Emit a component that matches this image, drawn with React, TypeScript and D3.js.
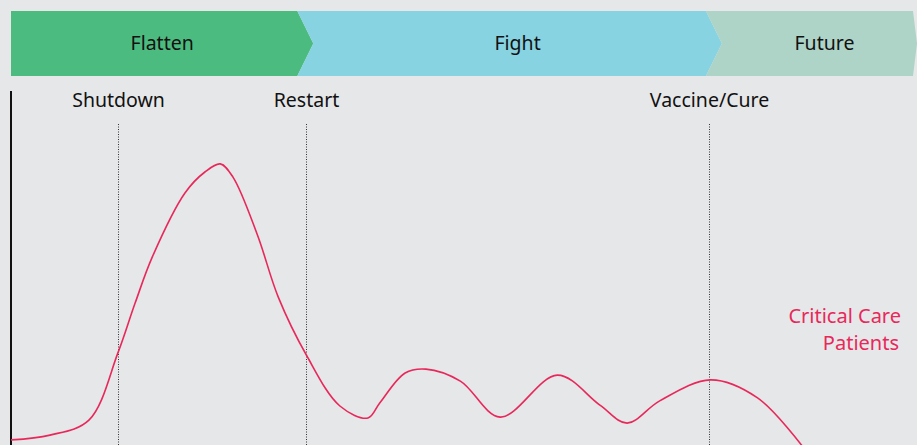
import React, { useEffect, useRef } from "react";
import * as d3 from "d3";

const W = 917;
const H = 445;

// Phases (time units 0..100)
const phaseNames = ["Flatten", "Fight", "Future"];
const phaseStarts = [0, 31.6, 76.7];
const phaseEnds = [31.6, 76.7, 100];
const phaseColors = ["#4cbb7f", "#87d3e2", "#aed3c7"];

// Events
const eventNames = ["Shutdown", "Restart", "Vaccine/Cure"];
const eventTimes = [11.8, 32.6, 77.0];

// Critical care patients curve
const times = [0, 4.3, 8.6, 11.8, 13.7, 15.6, 19.2, 21.4, 23.1, 24.5, 27.2, 29.5, 32.6, 36.3, 39.4, 40.7, 43.5, 45.8, 49.6, 54, 60.3, 65, 68, 71.6, 77.2, 82.4, 87.5];
const patients = [1.7, 3.3, 8.3, 30.7, 47.3, 62.7, 84, 91, 93.7, 89.3, 70, 49.3, 30, 13, 9, 14, 24, 25.3, 21.3, 9.3, 23.3, 13.3, 7.3, 14.7, 21.7, 15.7, -1];

const seriesLabel = ["Critical Care", "Patients"];

export default function App() {
  const ref = useRef<SVGSVGElement>(null);

  useEffect(() => {
    const svg = d3.select(ref.current);
    svg.selectAll("*").remove();
    const font = "'Noto Sans', 'IBM Plex Sans', sans-serif";
    const fs = 19.5;

    const x = d3.scaleLinear().domain([0, 100]).range([11, 917]);
    const y = d3.scaleLinear().domain([0, 100]).range([445, 145]);

    svg.append("rect").attr("width", W).attr("height", H).attr("fill", "#e6e7e9");

    // Banner
    const bTop = 11, bBot = 76, bMid = (bTop + bBot) / 2, tip = 16;
    const banner = svg.append("g");
    phaseNames.forEach((name, i) => {
      const x0 = x(phaseStarts[i]);
      const x1 = x(phaseEnds[i]);
      const last = i === phaseNames.length - 1;
      const pts: [number, number][] = [];
      pts.push([x0, bTop]);
      if (last) {
        pts.push([x1 - 4, bTop], [x1, bMid], [x1 - 4, bBot]);
      } else {
        pts.push([x1, bTop], [x1 + tip, bMid], [x1, bBot]);
      }
      pts.push([x0, bBot]);
      if (i > 0) pts.push([x0 + tip, bMid]);
      banner.append("path")
        .attr("d", "M" + pts.map(p => p.join(",")).join("L") + "Z")
        .attr("fill", phaseColors[i]);
    });
    phaseNames.forEach((name, i) => {
      const x0 = x(phaseStarts[i]) + (i > 0 ? tip : 0);
      const x1 = x(phaseEnds[i]) + (i < phaseNames.length - 1 ? tip : 0);
      banner.append("text")
        .attr("x", (x0 + x1) / 2 + (i === 2 ? 5 : 0))
        .attr("y", bMid)
        .attr("dy", "0.35em")
        .attr("text-anchor", "middle")
        .attr("font-family", font)
        .attr("font-size", fs)
        .attr("fill", "#111")
        .text(name);
    });

    // Y axis line
    svg.append("line")
      .attr("x1", 11).attr("x2", 11)
      .attr("y1", 91).attr("y2", H)
      .attr("stroke", "#111").attr("stroke-width", 2);

    // Event lines and labels
    eventNames.forEach((name, i) => {
      const ex = Math.round(x(eventTimes[i])) + 0.5;
      svg.append("line")
        .attr("x1", ex).attr("x2", ex)
        .attr("y1", 124).attr("y2", H)
        .attr("stroke", "#333").attr("stroke-width", 1)
        .attr("stroke-dasharray", "1,1.5");
      svg.append("text")
        .attr("x", ex)
        .attr("y", 107)
        .attr("text-anchor", "middle")
        .attr("font-family", font)
        .attr("font-size", fs)
        .attr("fill", "#111")
        .text(name);
    });

    // Curve
    const data = times.map((t, i) => ({ t, v: patients[i] }));
    const line = d3.line<{ t: number; v: number }>()
      .x(d => x(d.t))
      .y(d => y(d.v))
      .curve(d3.curveCatmullRom.alpha(0.5));
    svg.append("path")
      .datum(data)
      .attr("d", line)
      .attr("fill", "none")
      .attr("stroke", "#e8285a")
      .attr("stroke-width", 1.6);

    // Series label
    const lab = svg.append("text")
      .attr("x", 900)
      .attr("y", 323)
      .attr("text-anchor", "end")
      .attr("font-family", font)
      .attr("font-size", fs + 0.5)
      .attr("fill", "#e8285a");
    seriesLabel.forEach((s, i) => {
      lab.append("tspan").attr("x", i === 0 ? 901 : 899).attr("dy", i === 0 ? 0 : 26.5).text(s);
    });
  }, []);

  return (
    <svg
      ref={ref}
      width={W}
      height={H}
      style={{ position: "absolute", left: 0, top: 0, display: "block" }}
    />
  );
}
